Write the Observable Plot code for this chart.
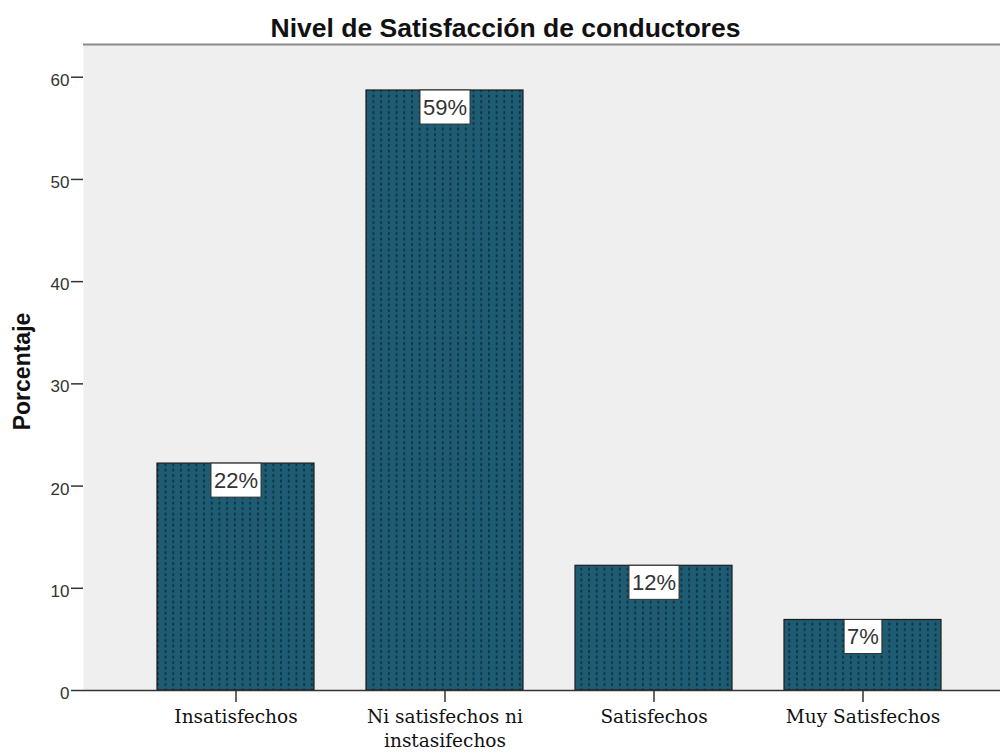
<!DOCTYPE html>
<html>
<head>
<meta charset="utf-8">
<script src="https://cdn.jsdelivr.net/npm/d3@7"></script>
<script src="https://cdn.jsdelivr.net/npm/@observablehq/plot@0.6"></script>
<style>
  html, body { margin: 0; padding: 0; background: #ffffff; }
  #chart svg { display: block; }
  #chart svg g[aria-label="y-axis tick label"] text { font-size: 17px !important; font-family: 'Liberation Sans', Arial, sans-serif; }
  #chart svg g[aria-label="x-axis tick label"] text { font-size: 18.5px !important; font-family: 'DejaVu Serif', serif; }
  #chart svg g.barlabel text { font-size: 22px; }
  #chart svg g.ttl text { font-size: 26.5px; font-weight: bold; }
  #chart svg g.ylab text { font-size: 23px; font-weight: bold; }
</style>
</head>
<body>
<div id="chart"></div>
<script>
const categories = ["Insatisfechos", "Ni satisfechos ni\ninstasifechos", "Satisfechos", "Muy Satisfechos"];
const values = [22.2, 58.7, 12.2, 6.9];
const labels = ["22%", "59%", "12%", "7%"];
const yTicks = [0, 10, 20, 30, 40, 50, 60];
const title = "Nivel de Satisfacción de conductores";
const yLabel = "Porcentaje";

const data = categories.map((c, i) => ({category: c, value: values[i], label: labels[i]}));

const plot = Plot.plot({
  width: 1000,
  height: 753,
  marginTop: 44,
  marginBottom: 63,
  marginLeft: 83,
  marginRight: 0,
  style: {background: "#ffffff", fontFamily: "'Liberation Sans', Arial, sans-serif", color: "#222"},
  x: {domain: categories, range: [83, 1014], paddingInner: 0.25, paddingOuter: 0.349, label: null},
  y: {domain: [0, 63.2], label: null},
  marks: [
    Plot.frame({fill: "#efefef", stroke: null}),
    Plot.ruleY([63.2], {stroke: "#8a8a8a", strokeWidth: 2}),
    Plot.barY(data, {x: "category", y: "value", fill: "url(#dots)", stroke: "#1b1b1b", strokeWidth: 1.2}),
    Plot.ruleX([0], {frameAnchor: "left", stroke: "#333", strokeWidth: 1.5}),
    Plot.ruleY([0], {stroke: "#333", strokeWidth: 1.5}),
    Plot.axisY({ticks: yTicks, tickSize: 12, tickFormat: () => "", stroke: "#333", strokeWidth: 1.5, label: null}),
    Plot.axisY({ticks: yTicks, tickSize: 0, tickPadding: 14, fontSize: 17, dy: 3, label: null, fill: "#333"}),
    Plot.axisX({tickSize: 12, tickPadding: 4, fontSize: 18.5, fontFamily: "'DejaVu Serif', serif", lineHeight: 1.28, stroke: "#333", strokeWidth: 1.5, label: null, fill: "#111", textStroke: "none"}),
    Plot.text(data, {x: "category", y: "value", text: "label", dy: 17, fontSize: 22, fill: "#333", lineAnchor: "middle", className: "barlabel"}),
    Plot.text([title], {frameAnchor: "top-left", dx: 422, dy: -16, fontSize: 26.5, fontWeight: "bold", fill: "#111", textAnchor: "middle", lineAnchor: "middle", className: "ttl"}),
    Plot.text([yLabel], {frameAnchor: "left", dx: -61, dy: 4, rotate: -90, fontSize: 23, fontWeight: "bold", fill: "#111", textAnchor: "middle", lineAnchor: "middle", className: "ylab"})
  ]
});

const ns = "http://www.w3.org/2000/svg";
const defs = document.createElementNS(ns, "defs");
defs.innerHTML = `<pattern id="dots" patternUnits="userSpaceOnUse" width="7.7" height="5.5">
  <rect width="7.7" height="5.5" fill="#1e5c74"></rect>
  <rect x="3" y="1.2" width="1.6" height="2.8" fill="#0b2a38"></rect>
</pattern>`;
plot.insertBefore(defs, plot.firstChild);
document.getElementById("chart").appendChild(plot);

// white boxes behind the value labels, sized from the rendered text
const g = plot.querySelector("g.barlabel");
if (g) {
  g.querySelectorAll("text").forEach(t => {
    const b = t.getBBox();
    const r = document.createElementNS(ns, "rect");
    const top = b.y + b.height / 2 - 17;
    r.setAttribute("x", b.x - 3);
    r.setAttribute("y", top);
    r.setAttribute("width", b.width + 6);
    r.setAttribute("height", 34);
    r.setAttribute("fill", "#ffffff");
    r.setAttribute("stroke", "#333");
    r.setAttribute("stroke-width", 1);
    const tr = t.getAttribute("transform");
    if (tr) r.setAttribute("transform", tr);
    t.parentNode.insertBefore(r, t);
  });
}
</script>
</body>
</html>
